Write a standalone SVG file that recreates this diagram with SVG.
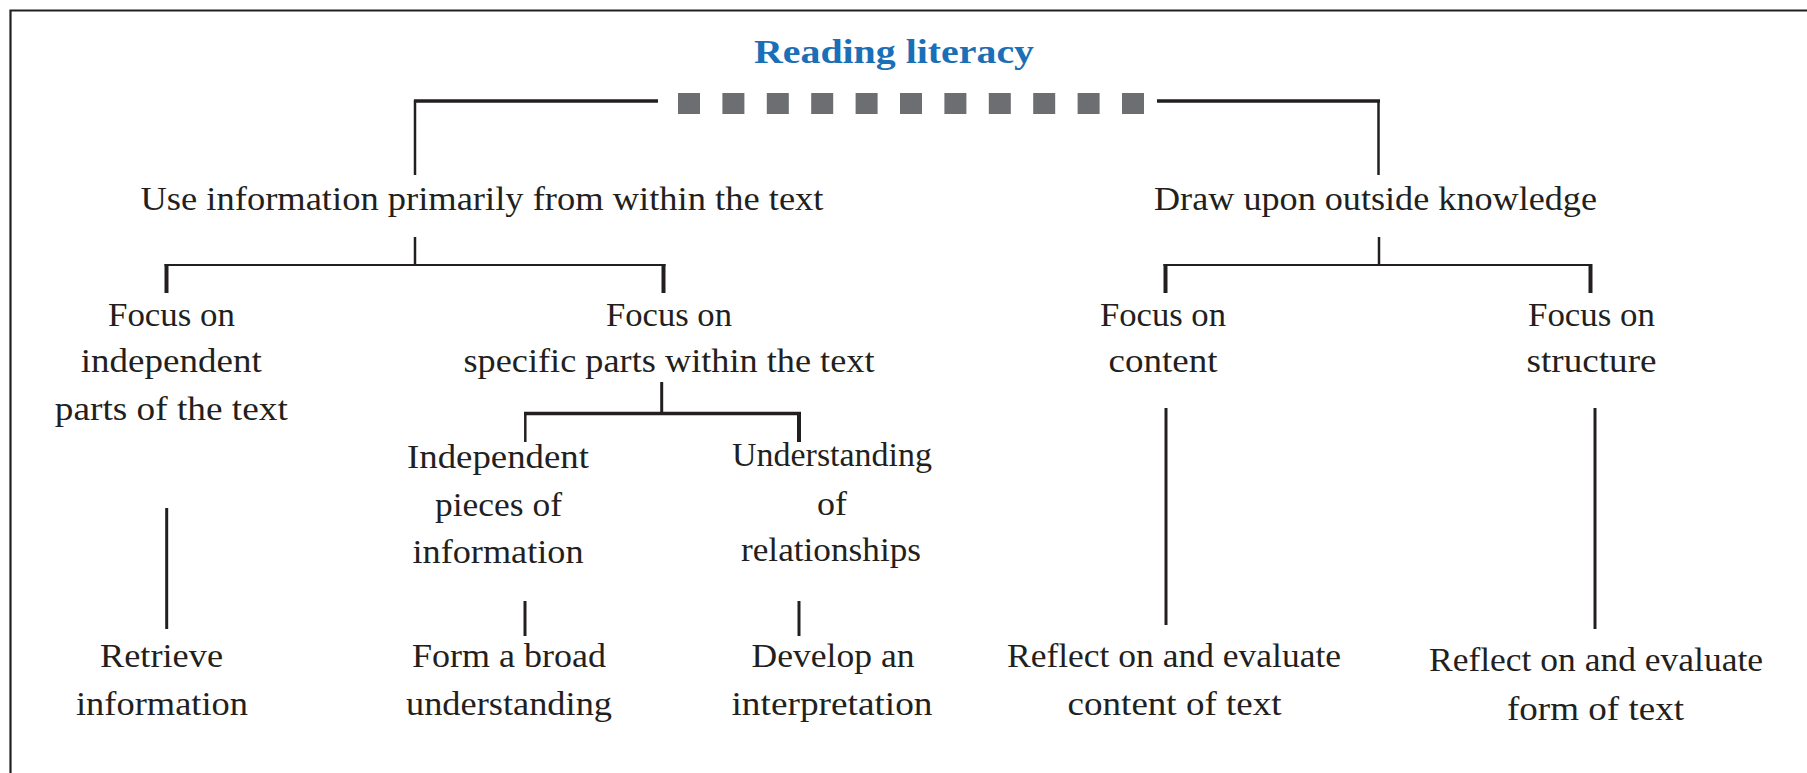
<svg xmlns="http://www.w3.org/2000/svg" width="1807" height="773" viewBox="0 0 1807 773">
<style>
.t{font-family:"Liberation Serif","Times New Roman",serif;font-size:34px;fill:#231f20;text-anchor:middle}
.title{font-family:"Liberation Serif","Times New Roman",serif;font-size:33px;font-weight:bold;fill:#1b6fb6;text-anchor:middle}
.ln{stroke:#231f20;fill:none;stroke-linecap:butt}
.dash{fill:#6d6e71}
</style>
<rect x="0" y="0" width="1807" height="773" fill="#ffffff"/>
<path d="M10.5 773 V10.5 H1807" stroke="#231f20" stroke-width="2.2" fill="none"/>

<g id="root">
<text class="title" x="894" y="63" textLength="280" lengthAdjust="spacingAndGlyphs">Reading literacy</text>
</g>

<g id="connectors">
<line class="ln" x1="414" y1="101" x2="658" y2="101" stroke-width="3.5"/>
<line class="ln" x1="1157" y1="101" x2="1380" y2="101" stroke-width="3.5"/>
<g class="dash">
<rect x="678" y="93" width="22" height="21"/>
<rect x="722.4" y="93" width="22" height="21"/>
<rect x="766.8" y="93" width="22" height="21"/>
<rect x="811.2" y="93" width="22" height="21"/>
<rect x="855.6" y="93" width="22" height="21"/>
<rect x="900" y="93" width="22" height="21"/>
<rect x="944.4" y="93" width="22" height="21"/>
<rect x="988.8" y="93" width="22" height="21"/>
<rect x="1033.2" y="93" width="22" height="21"/>
<rect x="1077.6" y="93" width="22" height="21"/>
<rect x="1122" y="93" width="22" height="21"/>
</g>
<line class="ln" x1="415" y1="100" x2="415" y2="175" stroke-width="2.5"/>
<line class="ln" x1="1378.5" y1="100" x2="1378.5" y2="175" stroke-width="2.5"/>

<line class="ln" x1="415" y1="237" x2="415" y2="265" stroke-width="2.5"/>
<line class="ln" x1="164.5" y1="265" x2="665.5" y2="265" stroke-width="2.2"/>
<line class="ln" x1="166.5" y1="264" x2="166.5" y2="293" stroke-width="4"/>
<line class="ln" x1="663.5" y1="264" x2="663.5" y2="293" stroke-width="4"/>

<line class="ln" x1="1379" y1="237" x2="1379" y2="265" stroke-width="2.5"/>
<line class="ln" x1="1163.5" y1="265" x2="1592" y2="265" stroke-width="2.2"/>
<line class="ln" x1="1165.5" y1="264" x2="1165.5" y2="293" stroke-width="4"/>
<line class="ln" x1="1590.5" y1="264" x2="1590.5" y2="293" stroke-width="4"/>

<line class="ln" x1="661.7" y1="382" x2="661.7" y2="413.5" stroke-width="3"/>
<line class="ln" x1="524" y1="413.5" x2="801" y2="413.5" stroke-width="3.5"/>
<line class="ln" x1="525.3" y1="412" x2="525.3" y2="442" stroke-width="2.5"/>
<line class="ln" x1="799" y1="412" x2="799" y2="442" stroke-width="4"/>

<line class="ln" x1="166.7" y1="508" x2="166.7" y2="629" stroke-width="3"/>
<line class="ln" x1="525" y1="601" x2="525" y2="636" stroke-width="3"/>
<line class="ln" x1="799" y1="601" x2="799" y2="636" stroke-width="3"/>
<line class="ln" x1="1166" y1="408" x2="1166" y2="625" stroke-width="3"/>
<line class="ln" x1="1595" y1="408" x2="1595" y2="629" stroke-width="3"/>
</g>

<g id="use-info">
<text class="t" x="482" y="210" textLength="683" lengthAdjust="spacingAndGlyphs">Use information primarily from within the text</text>
</g>
<g id="outside">
<text class="t" x="1375.5" y="210" textLength="443" lengthAdjust="spacingAndGlyphs">Draw upon outside knowledge</text>
</g>

<g id="focus-independent">
<text class="t" x="171.5" y="326" textLength="127" lengthAdjust="spacingAndGlyphs">Focus on</text>
<text class="t" x="171.3" y="372" textLength="181" lengthAdjust="spacingAndGlyphs">independent</text>
<text class="t" x="171.3" y="420" textLength="233" lengthAdjust="spacingAndGlyphs">parts of the text</text>
</g>
<g id="focus-specific">
<text class="t" x="669" y="326" textLength="126" lengthAdjust="spacingAndGlyphs">Focus on</text>
<text class="t" x="669" y="372" textLength="411" lengthAdjust="spacingAndGlyphs">specific parts within the text</text>
</g>
<g id="focus-content">
<text class="t" x="1163" y="326" textLength="126" lengthAdjust="spacingAndGlyphs">Focus on</text>
<text class="t" x="1163" y="372" textLength="109" lengthAdjust="spacingAndGlyphs">content</text>
</g>
<g id="focus-structure">
<text class="t" x="1591.5" y="326" textLength="127" lengthAdjust="spacingAndGlyphs">Focus on</text>
<text class="t" x="1591.5" y="372" textLength="130" lengthAdjust="spacingAndGlyphs">structure</text>
</g>

<g id="independent-pieces">
<text class="t" x="498" y="468" textLength="182" lengthAdjust="spacingAndGlyphs">Independent</text>
<text class="t" x="498.5" y="516" textLength="127" lengthAdjust="spacingAndGlyphs">pieces of</text>
<text class="t" x="498" y="563" textLength="171" lengthAdjust="spacingAndGlyphs">information</text>
</g>
<g id="understanding-rel">
<text class="t" x="832" y="466" textLength="200" lengthAdjust="spacingAndGlyphs">Understanding</text>
<text class="t" x="832" y="515" textLength="30" lengthAdjust="spacingAndGlyphs">of</text>
<text class="t" x="831" y="561" textLength="180" lengthAdjust="spacingAndGlyphs">relationships</text>
</g>

<g id="retrieve">
<text class="t" x="161.5" y="667" textLength="123" lengthAdjust="spacingAndGlyphs">Retrieve</text>
<text class="t" x="162" y="715" textLength="172" lengthAdjust="spacingAndGlyphs">information</text>
</g>
<g id="broad">
<text class="t" x="509" y="667" textLength="194" lengthAdjust="spacingAndGlyphs">Form a broad</text>
<text class="t" x="509" y="715" textLength="206" lengthAdjust="spacingAndGlyphs">understanding</text>
</g>
<g id="interpret">
<text class="t" x="833" y="667" textLength="163" lengthAdjust="spacingAndGlyphs">Develop an</text>
<text class="t" x="832" y="715" textLength="201" lengthAdjust="spacingAndGlyphs">interpretation</text>
</g>
<g id="reflect-content">
<text class="t" x="1174" y="667" textLength="334" lengthAdjust="spacingAndGlyphs">Reflect on and evaluate</text>
<text class="t" x="1174.6" y="715" textLength="214" lengthAdjust="spacingAndGlyphs">content of text</text>
</g>
<g id="reflect-form">
<text class="t" x="1596" y="671" textLength="334" lengthAdjust="spacingAndGlyphs">Reflect on and evaluate</text>
<text class="t" x="1595.5" y="720" textLength="177" lengthAdjust="spacingAndGlyphs">form of text</text>
</g>
</svg>
